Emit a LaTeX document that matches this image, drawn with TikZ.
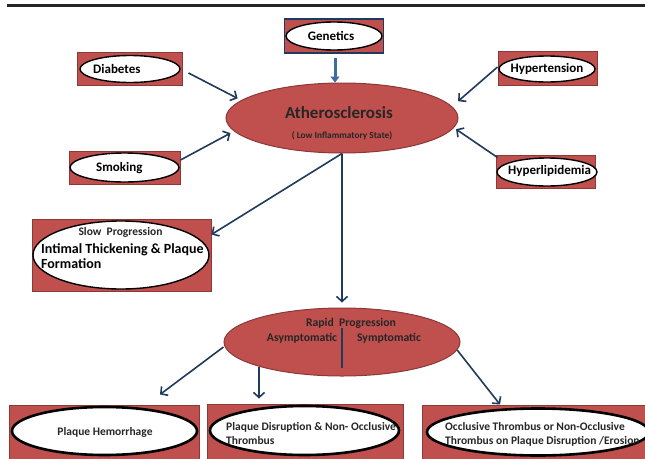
\documentclass[tikz,border=0pt]{standalone}
\usepackage{fontspec}
\setmainfont{Carlito}
\usepackage{tikz}
\usetikzlibrary{positioning, arrows.meta, shapes}

\definecolor{boxred}{HTML}{C0504D}
\definecolor{boxedge}{HTML}{8C3836}
\definecolor{navy}{HTML}{1F3A5C}
\definecolor{steel}{HTML}{3E6C9C}

\begin{document}
\begin{tikzpicture}[
    x=1pt, y=-1pt,
    box_style/.style={rectangle, fill=boxred, draw=boxedge, line width=1pt, inner sep=0pt},
    oval_style/.style={ellipse, fill=white, draw=black, line width=1.4pt, inner sep=0pt},
    thick_oval_style/.style={oval_style, line width=2.6pt},
    hub_style/.style={ellipse, fill=boxred, draw=boxedge, line width=1pt, inner sep=0pt},
    name_style/.style={inner sep=0pt, font=\bfseries\fontsize{13}{15}\selectfont},
    note_style/.style={inner sep=0pt, font=\bfseries\fontsize{11.7}{13}\selectfont, text=black!85},
    arrow_style/.style={navy, line width=1.6pt, -{Straight Barb[length=5pt, width=11pt]}},
    divider_style/.style={navy, line width=1.6pt}
]
    \useasboundingbox (0,0) rectangle (645,458);
    \clip (0,0) rectangle (645,458);

    % Top rule
    \draw[line width=3pt, black!85] (7,5) -- (645,5);

    % Risk factors
    \node[box_style, draw=navy, line width=1.8pt, minimum width=99pt, minimum height=34pt] (genbox) at (334,36) {};
    \node[oval_style, minimum width=96pt, minimum height=28pt] (genoval) at (334,36) {};
    \node[name_style] (gentext) at (331,36) {Genetics};

    \node[box_style, minimum width=105pt, minimum height=33pt] (diabox) at (129.5,68.5) {};
    \node[oval_style, minimum width=100pt, minimum height=27pt] (diaoval) at (130,69) {};
    \node[name_style, anchor=west] (diatext) at (93,69) {Diabetes};

    \node[box_style, minimum width=99pt, minimum height=34pt] (hypbox) at (547.5,68) {};
    \node[oval_style, minimum width=96pt, minimum height=26pt] (hypoval) at (547,69) {};
    \node[name_style] (hyptext) at (547,69) {Hypertension};

    \node[box_style, minimum width=111pt, minimum height=33pt] (smkbox) at (124.5,167.5) {};
    \node[oval_style, minimum width=109pt, minimum height=29pt] (smkoval) at (124.5,167.5) {};
    \node[name_style, anchor=west] (smktext) at (96,168) {Smoking};

    \node[box_style, minimum width=99pt, minimum height=33pt] (hlpbox) at (545.5,171.5) {};
    \node[oval_style, minimum width=100pt, minimum height=28pt] (hlpoval) at (547,172) {};
    \node[name_style, anchor=west] (hlptext) at (508,171) {Hyperlipidemia};

    % Atherosclerosis
    \node[hub_style, minimum width=232pt, minimum height=70pt] (athero) at (342,118) {};
    \node[name_style, font=\bfseries\fontsize{17}{19}\selectfont, text=black!85] (atherotext) at (339,113) {Atherosclerosis};
    \node[note_style, font=\bfseries\fontsize{9.3}{10}\selectfont] (lowtext) at (342,136) {( Low Inflammatory State)};

    % Slow progression
    \node[box_style, minimum width=179pt, minimum height=72pt] (slowbox) at (121.5,255) {};
    \node[oval_style, minimum width=176pt, minimum height=68pt] (slowoval) at (121,255) {};
    \node[note_style, font=\bfseries\fontsize{11.5}{13}\selectfont] (slowtext) at (120.5,232) {Slow~ Progression};
    \node[name_style, font=\bfseries\fontsize{14}{15}\selectfont, anchor=west, align=left] (intimaltext) at (41,256.5) {Intimal Thickening \& Plaque\\Formation};

    % Rapid progression
    \node[hub_style, minimum width=236pt, minimum height=68pt] (rapid) at (342,342) {};
    \node[note_style] (rapidtext) at (351,323) {Rapid~ Progression};
    \node[note_style] (asymtext) at (302,338) {Asymptomatic};
    \node[note_style] (symtext) at (389,338) {Symptomatic};
    \draw[divider_style] ([yshift=-20pt]rapid.north) -- ([yshift=9pt]rapid.south);

    % Outcomes
    \node[box_style, minimum width=190pt, minimum height=70pt] (phbox) at (104,440) {};
    \node[thick_oval_style, minimum width=185pt, minimum height=48pt] (phoval) at (104.5,431) {};
    \node[note_style, font=\bfseries\fontsize{11.5}{14}\selectfont] (phtext) at (105,432) {Plaque Hemorrhage};

    \node[box_style, minimum width=196pt, minimum height=70pt] (pdbox) at (305,439) {};
    \node[thick_oval_style, minimum width=189pt, minimum height=49pt] (pdoval) at (304.5,430.5) {};
    \node[note_style, font=\bfseries\fontsize{11.5}{14}\selectfont, anchor=west, align=left] (pdtext) at (226,433) {Plaque Disruption \& Non- Occlusive\\Thrombus};

    \node[box_style, minimum width=228pt, minimum height=70pt] (otbox) at (536,440) {};
    \node[thick_oval_style, minimum width=222pt, minimum height=47pt] (otoval) at (538,432) {};
    \node[note_style, font=\bfseries\fontsize{11.5}{14}\selectfont, anchor=west, align=left] (ottext) at (445,434) {Occlusive Thrombus or Non-Occlusive\\Thrombus on Plaque Disruption /Erosion};

    % Arrows into atherosclerosis
    \draw[steel, line width=3pt, -{Triangle[length=6pt, width=9pt]}] ([xshift=1pt, yshift=-4pt]genbox.south) -- ([xshift=1pt]genbox.south |- athero.north);
    \draw[arrow_style, shorten >=4pt] ([xshift=6pt, yshift=-4.5pt]diabox.east) -- (athero.170.5);
    \draw[arrow_style, shorten >=4pt] ([yshift=7.5pt]smkbox.east) -- (athero.187.6);
    \draw[arrow_style, shorten >=8pt] ([yshift=1pt]hypbox.west) -- (athero.6.9);
    \draw[arrow_style, shorten >=2.5pt] ([xshift=2pt, yshift=-3pt]hlpbox.north west) -- (athero.-5.4);

    % Arrows out of atherosclerosis
    \draw[arrow_style] (athero.south) -- ([yshift=-16pt]slowbox.north east);
    \draw[arrow_style, shorten >=5pt] (athero.south) -- (rapid.north);

    % Arrows into outcomes
    \draw[arrow_style] ([yshift=-5pt]rapid.west) -- ([xshift=56pt, yshift=10pt]phbox.north);
    \draw[arrow_style] ([xshift=-83pt, yshift=10pt]rapid.south) -- ([xshift=-46pt, yshift=5pt]pdbox.north);
    \draw[arrow_style] (rapid.-4.5) -- ([xshift=-36pt]otbox.north);
\end{tikzpicture}
\end{document}
